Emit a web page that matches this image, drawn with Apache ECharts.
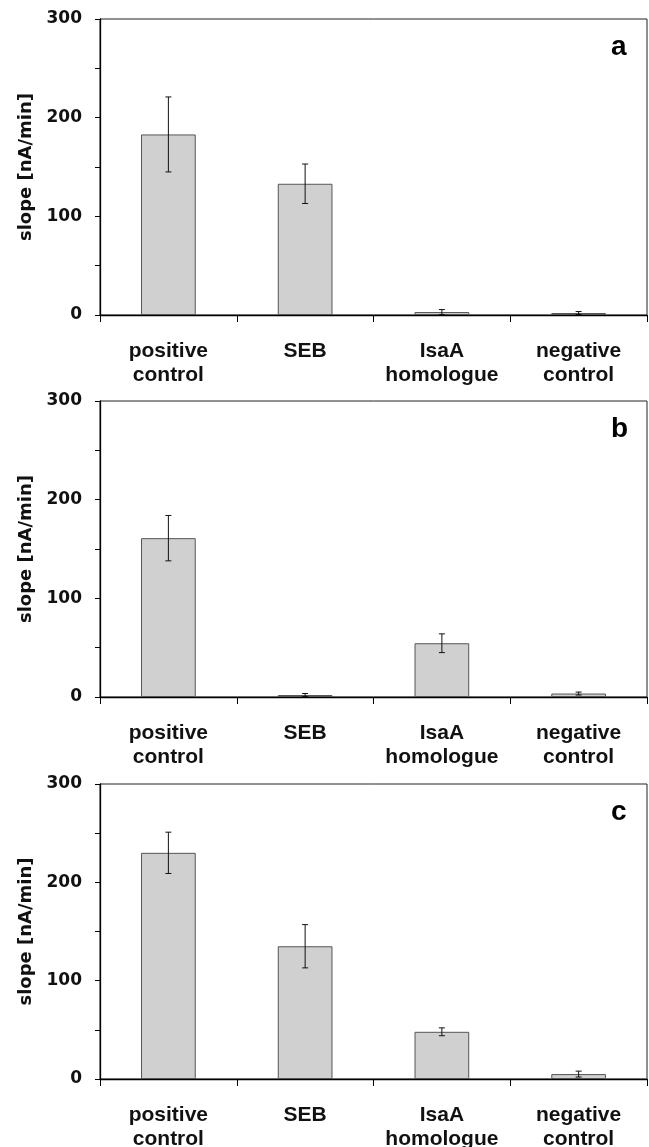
<!DOCTYPE html>
<html>
<head>
<meta charset="utf-8">
<script src="https://cdn.jsdelivr.net/npm/echarts@6/dist/echarts.min.js"></script>
<style>
  html, body { margin: 0; padding: 0; background: #fff; }
  #chart { width: 649px; height: 1147px; }
</style>
</head>
<body>
<div id="chart"></div>
<script>
// categories on the x axis
var categories = ['positive\ncontrol', 'SEB', 'IsaA\nhomologue', 'negative\ncontrol'];
var panelLetters = ['a', 'b', 'c'];

// slope [nA/min] and error (+/-) per panel
var slopeA = [183, 133, 3, 2];
var errA = [38, 20, 2.5, 1.5];
var slopeB = [161, 2, 54.5, 3.5];
var errB = [23, 1.5, 9.5, 1.5];
var slopeC = [230, 135, 48, 5];
var errC = [21, 22, 4, 3];

var yMin = 0, yMax = 300, yStep = 50;

var slopes = [slopeA, slopeB, slopeC];
var errs = [errA, errB, errC];
var gridTops = [19, 401, 784];
var gridHeights = [296, 296, 295];

function errorBar(params, api) {
    var lo = api.coord([api.value(0), api.value(1)]);
    var hi = api.coord([api.value(0), api.value(2)]);
    var hw = 3;
    var st = {stroke: '#111', lineWidth: 1};
    return {
        type: 'group',
        children: [
            {type: 'line', shape: {x1: lo[0], y1: lo[1], x2: hi[0], y2: hi[1]}, style: st},
            {type: 'line', shape: {x1: lo[0] - hw, y1: lo[1], x2: lo[0] + hw, y2: lo[1]}, style: st},
            {type: 'line', shape: {x1: hi[0] - hw, y1: hi[1], x2: hi[0] + hw, y2: hi[1]}, style: st}
        ]
    };
}

var grids = [], xAxes = [], yAxes = [], series = [], titles = [];
for (var i = 0; i < 3; i++) {
    grids.push({
        left: 100, right: 2, top: gridTops[i], height: gridHeights[i],
        containLabel: false, outerBoundsMode: 'none',
        show: true, borderColor: '#222', borderWidth: 1, backgroundColor: 'transparent'
    });
    xAxes.push({
        type: 'category', gridIndex: i, data: categories,
        axisLine: {lineStyle: {color: '#000', width: 1.3}},
        axisTick: {show: true, length: 7, lineStyle: {color: '#000'}},
        axisLabel: {
            color: '#111', fontFamily: 'Liberation Sans', fontWeight: 'bold',
            fontSize: 21, lineHeight: 24, margin: 24, interval: 0
        }
    });
    yAxes.push({
        type: 'value', gridIndex: i, min: yMin, max: yMax, interval: yStep,
        name: 'slope [nA/min]', nameLocation: 'middle', nameGap: 62,
        nameTextStyle: {color: '#111', fontFamily: 'DejaVu Sans', fontWeight: 'bold', fontSize: 18},
        axisLine: {show: true, lineStyle: {color: '#000', width: 1.3}},
        axisTick: {show: true, length: 5, lineStyle: {color: '#000'}},
        splitLine: {show: false},
        axisLabel: {
            color: '#111', fontFamily: 'DejaVu Sans', fontWeight: 'bold', fontSize: 17, margin: 18,
            formatter: function (v) { return v % 100 === 0 ? String(v) : ''; }
        }
    });
    series.push({
        type: 'bar', xAxisIndex: i, yAxisIndex: i, data: slopes[i], barWidth: '40%',
        itemStyle: {color: '#d0d0d0', borderColor: '#555', borderWidth: 1},
        silent: true
    });
    series.push({
        type: 'custom', xAxisIndex: i, yAxisIndex: i, renderItem: errorBar,
        encode: {x: 0, y: [1, 2]}, z: 5, silent: true,
        data: slopes[i].map(function (v, k) { return [k, v - errs[i][k], v + errs[i][k]]; })
    });
    titles.push({
        text: panelLetters[i], left: 611, top: gridTops[i] + 14, padding: 0,
        textStyle: {color: '#000', fontFamily: 'Liberation Sans', fontWeight: 'bold', fontSize: 28}
    });
}

var chart = echarts.init(document.getElementById('chart'));
chart.setOption({
    animation: false,
    backgroundColor: '#fff',
    title: titles,
    grid: grids,
    xAxis: xAxes,
    yAxis: yAxes,
    series: series
});
</script>
</body>
</html>
